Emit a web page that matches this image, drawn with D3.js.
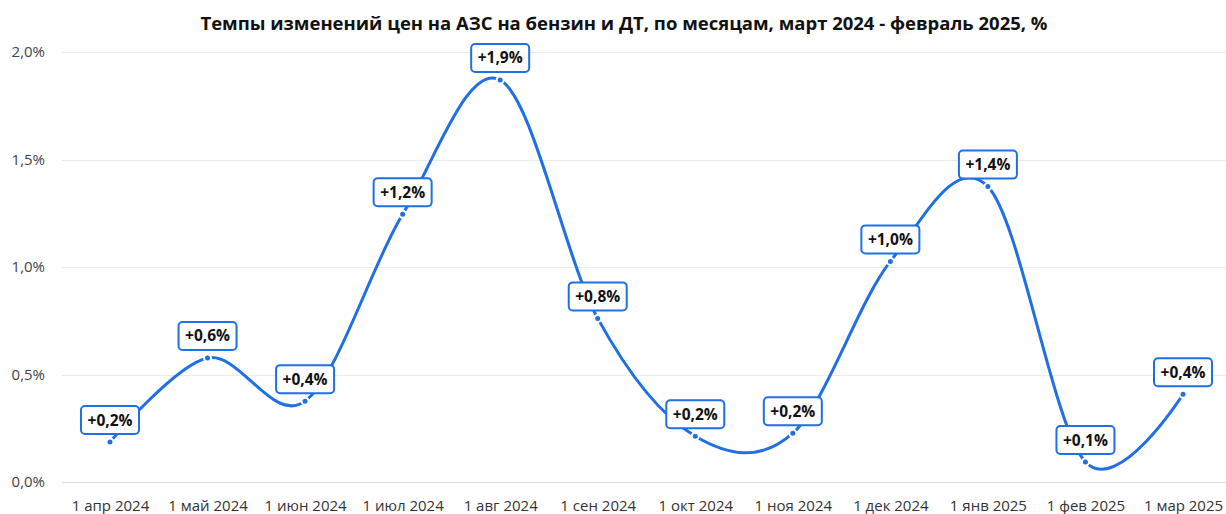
<!DOCTYPE html>
<html>
<head>
<meta charset="utf-8">
<script src="https://cdn.jsdelivr.net/npm/d3@7"></script>
<style>
  body { margin: 0; background: #fff; }
  svg { display: block; font-family: "Open Sans", "Noto Sans", sans-serif; }
</style>
</head>
<body>
<svg id="chart"></svg>
<script>
// monthly change of fuel prices, %
var months = ["1 апр 2024", "1 май 2024", "1 июн 2024", "1 июл 2024", "1 авг 2024", "1 сен 2024",
              "1 окт 2024", "1 ноя 2024", "1 дек 2024", "1 янв 2025", "1 фев 2025", "1 мар 2025"]
var values = [0.186, 0.577, 0.376, 1.245, 1.870, 0.761, 0.213, 0.227, 1.026, 1.374, 0.093, 0.408]
var yTicks = [0, 0.5, 1, 1.5, 2]
var title = "Темпы изменений цен на АЗС на бензин и ДТ, по месяцам, март 2024 - февраль 2025, %"

var width = 1226
var height = 514
var blue = "#1f6fe5"

var svg = d3.select("#chart")
    .attr("width", width)
    .attr("height", height)

var ru = d3.formatLocale({decimal: ",", thousands: " ", grouping: [3], currency: ["", " ₽"]})
var fmtAxis = ru.format(".1f")
var fmtLabel = ru.format("+.1f")

var x = d3.scalePoint()
    .domain(months)
    .range([110, 1183])

var y = d3.scaleLinear()
    .domain([0, 2])
    .range([482, 52])

// title
svg.append("text")
    .attr("x", 624)
    .attr("y", 30)
    .attr("text-anchor", "middle")
    .attr("font-size", 17)
    .attr("font-weight", 700)
    .attr("fill", "#111")
    .attr("textLength", 847)
    .attr("lengthAdjust", "spacingAndGlyphs")
    .text(title)

// grid + y labels
var grid = svg.append("g")
grid.selectAll("line")
    .data(yTicks)
    .enter()
    .append("line")
    .attr("x1", 62)
    .attr("x2", width)
    .attr("y1", d => Math.round(y(d)) + 0.5)
    .attr("y2", d => Math.round(y(d)) + 0.5)
    .attr("stroke", d => d === 0 ? "#dcdcdc" : "#ebebeb")
    .attr("stroke-width", 1)

grid.selectAll("text")
    .data(yTicks)
    .enter()
    .append("text")
    .attr("x", 45)
    .attr("y", d => y(d) + 5)
    .attr("text-anchor", "end")
    .attr("font-size", 15)
    .attr("fill", "#444")
    .text(d => fmtAxis(d) + "%")

// x labels
var xAxis = svg.append("g")
    .attr("transform", "translate(0,482)")
    .call(d3.axisBottom(x).tickSize(0).tickPadding(18))
xAxis.select(".domain").remove()
xAxis.selectAll("text")
    .attr("font-size", 15)
    .attr("font-family", "\"Open Sans\", \"Noto Sans\", sans-serif")
    .attr("fill", "#333")

// line
var line = d3.line()
    .x((d, i) => x(months[i]))
    .y(d => y(d))
    .curve(d3.curveCatmullRom.alpha(0))

svg.append("path")
    .datum(values)
    .attr("d", line)
    .attr("fill", "none")
    .attr("stroke", blue)
    .attr("stroke-width", 3)
    .attr("stroke-linecap", "round")

svg.append("g")
    .selectAll("circle")
    .data(values)
    .enter()
    .append("circle")
    .attr("cx", (d, i) => x(months[i]))
    .attr("cy", d => y(d))
    .attr("r", 3.5)
    .attr("fill", blue)
    .attr("stroke", "#fff")
    .attr("stroke-width", 2)

// value labels
var labels = svg.append("g")
    .selectAll("g")
    .data(values)
    .enter()
    .append("g")
    .attr("transform", (d, i) => "translate(" + x(months[i]) + "," + (y(d) - 7) + ")")

labels.append("rect")
    .attr("x", -29)
    .attr("y", -29)
    .attr("width", 58)
    .attr("height", 28)
    .attr("rx", 4)
    .attr("fill", "#fff")
    .attr("stroke", blue)
    .attr("stroke-width", 2)

labels.append("text")
    .attr("x", 0)
    .attr("y", -9.5)
    .attr("text-anchor", "middle")
    .attr("font-size", 15.5)
    .attr("font-weight", 700)
    .attr("fill", "#111")
    .text(d => fmtLabel(d) + "%")
</script>
</body>
</html>
